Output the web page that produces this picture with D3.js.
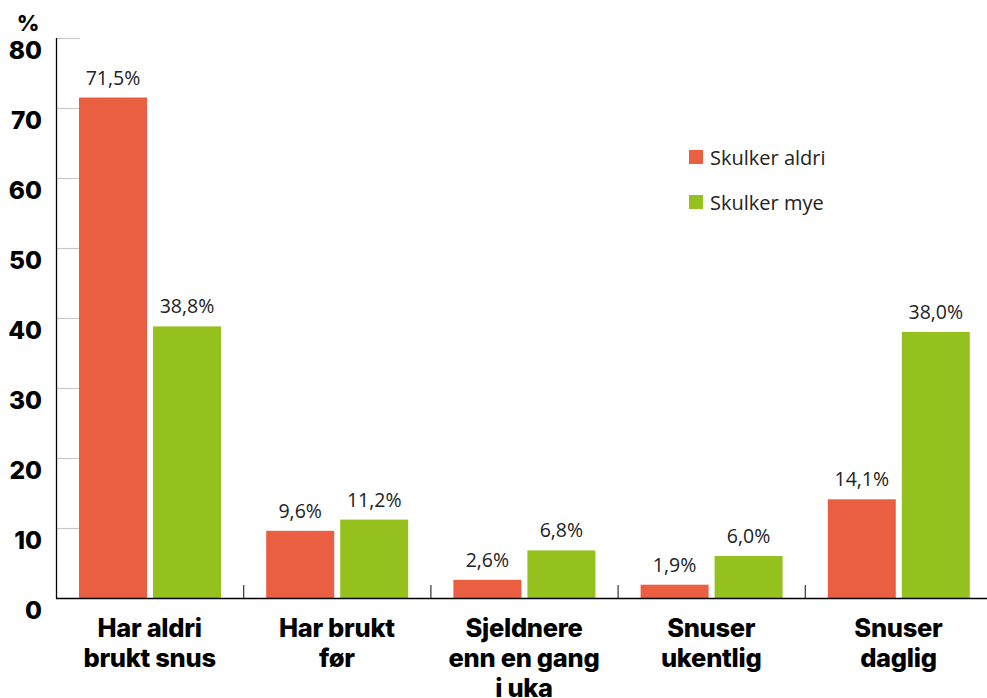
<!DOCTYPE html>
<html><head><meta charset="utf-8">
<script src="https://cdn.jsdelivr.net/npm/d3@7"></script>
<style>body{margin:0;background:#fff}</style>
</head><body>
<svg id="c" width="987" height="698"></svg>
<script>
const categories = ["Har aldri brukt snus","Har brukt før","Sjeldnere enn en gang i uka","Snuser ukentlig","Snuser daglig"];
const categoryLines = [["Har aldri","brukt snus"],["Har brukt","før"],["Sjeldnere","enn en gang","i uka"],["Snuser","ukentlig"],["Snuser","daglig"]];
const series = ["Skulker aldri","Skulker mye"];
const skulkerAldri = [71.5, 9.6, 2.6, 1.9, 14.1];
const skulkerMye = [38.8, 11.2, 6.8, 6.0, 38.0];
const yTicks = [0,10,20,30,40,50,60,70,80];
const colors = ["#EA5E42","#95C11F"];

const svg = d3.select("#c");
const y = d3.scaleLinear().domain([0,80]).range([598,38]);
const x = d3.scaleBand().domain(categories).range([56,992]).padding(0);
const xs = d3.scaleBand().domain(series).range([23,165]).paddingInner(6/74).paddingOuter(0);
const valFont = "'Open Sans', sans-serif";
const boldFont = "Inter, 'DejaVu Sans', sans-serif";

// gray ticks
svg.append("g").selectAll("line").data(yTicks.filter(d=>d>0)).join("line")
  .attr("x1",57).attr("x2",80).attr("y1",d=>y(d)+0.5).attr("y2",d=>y(d)+0.5)
  .attr("stroke","#c8c8c8").attr("stroke-width",1.2);

// y labels
svg.append("g").selectAll("text").data(yTicks).join("text")
  .attr("x",42).attr("y",d=>y(d)+21).attr("text-anchor","end")
  .attr("font-family",boldFont).attr("font-weight",800).attr("font-size",24.5).attr("fill","#000")
  .text(d=>d);
svg.append("text").attr("x",28).attr("y",31).attr("text-anchor","middle")
  .attr("font-family",boldFont).attr("font-weight",800).attr("font-size",22).text("%");

// bars
const data = categories.map((c,i)=>({c, vals:[skulkerAldri[i], skulkerMye[i]]}));
const g = svg.append("g").selectAll("g").data(data).join("g")
  .attr("transform",d=>`translate(${x(d.c)},0)`);
g.selectAll("rect").data(d=>d.vals.map((v,j)=>({s:series[j],v,j}))).join("rect")
  .attr("x",d=>xs(d.s)).attr("width",xs.bandwidth())
  .attr("y",d=>y(d.v)).attr("height",d=>y(0)-y(d.v))
  .attr("fill",d=>colors[d.j]);
g.selectAll("text.v").data(d=>d.vals.map((v,j)=>({s:series[j],v,j}))).join("text")
  .attr("class","v")
  .attr("x",d=>xs(d.s)+xs.bandwidth()/2).attr("y",d=>y(d.v)-13)
  .attr("text-anchor","middle").attr("font-family",valFont).attr("font-size",19.5).attr("fill","#222")
  .text(d=>d.v.toFixed(1).replace(".",",")+"%");

// category labels
g.each(function(d,i){
  const t = d3.select(this).append("text").attr("text-anchor","middle")
    .attr("font-family",boldFont).attr("font-weight",800).attr("font-size",25.5).attr("fill","#000")
    .attr("letter-spacing","-0.3");
  categoryLines[i].forEach((l,k)=>{
    t.append("tspan").attr("x",x.bandwidth()/2).attr("y",637+k*30).text(l);
  });
});

// separators
svg.append("g").selectAll("line").data(categories.slice(1)).join("line")
  .attr("x1",d=>x(d)+0.5).attr("x2",d=>x(d)+0.5).attr("y1",585).attr("y2",598)
  .attr("stroke","#333").attr("stroke-width",1.2);

// axes lines
svg.append("line").attr("x1",56.5).attr("x2",56.5).attr("y1",y(80)).attr("y2",y(0)+0.5).attr("stroke","#000").attr("stroke-width",1.3);
svg.append("line").attr("x1",56).attr("x2",987).attr("y1",y(0)+0.5).attr("y2",y(0)+0.5).attr("stroke","#000").attr("stroke-width",1.3);

// legend
const lg = svg.append("g").selectAll("g").data(series).join("g")
  .attr("transform",(d,i)=>`translate(689,${150+i*45})`);
lg.append("rect").attr("width",14).attr("height",14).attr("fill",(d,i)=>colors[i]);
lg.append("text").attr("x",21).attr("y",14.5).attr("font-family",valFont).attr("font-size",20).attr("fill","#222").text(d=>d);
</script>
</body></html>
